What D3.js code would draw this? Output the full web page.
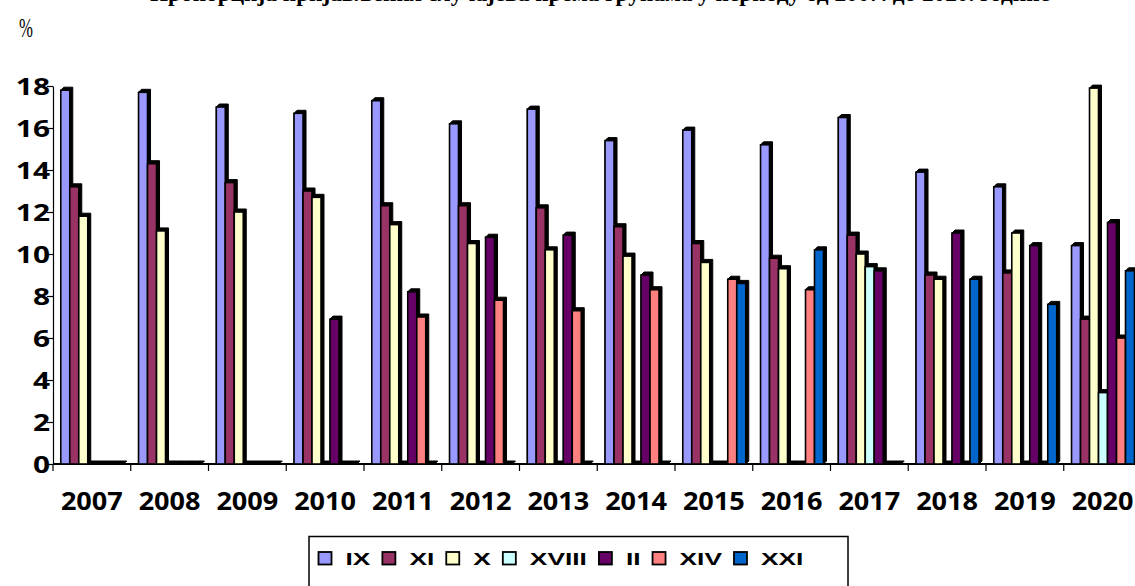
<!DOCTYPE html>
<html>
  <head>
    <meta charset="utf-8">
    <style>
      body { margin: 0; background: #fff; }
      svg { display: block; }
    </style>
  </head>
  <body>
    <script src="https://cdn.jsdelivr.net/npm/d3@7/dist/d3.min.js"></script>
    <script type="text/javascript">
      const width = 1135;
      const height = 586;

      const years = ['2007', '2008', '2009', '2010', '2011', '2012', '2013', '2014', '2015', '2016', '2017', '2018', '2019', '2020'];
      const seriesNames = ['IX', 'XI', 'X', 'XVIII', 'II', 'XIV', 'XXI'];
      const colorArray = ['#9999FF', '#993366', '#FFFFCC', '#CCFFFF', '#660066', '#FF8080', '#0066CC'];

      const valIX = [17.8, 17.7, 17.0, 16.7, 17.3, 16.2, 16.9, 15.4, 15.9, 15.2, 16.5, 13.9, 13.2, 10.4];
      const valXI = [13.2, 14.3, 13.4, 13.0, 12.3, 12.3, 12.2, 11.3, 10.5, 9.8, 10.9, 9.0, 9.1, 6.9];
      const valX = [11.8, 11.1, 12.0, 12.7, 11.4, 10.5, 10.2, 9.9, 9.6, 9.3, 10.0, 8.8, 11.0, 17.9];
      const valXVIII = [0, 0, 0, 0, 0, 0, 0, 0, 0, 0, 9.4, 0, 0, 3.4];
      const valII = [0, 0, 0, 6.9, 8.2, 10.8, 10.9, 9.0, 0, 0, 9.2, 11.0, 10.4, 11.5];
      const valXIV = [0, 0, 0, 0, 7.0, 7.8, 7.3, 8.3, 8.8, 8.3, 0, 0, 0, 6.0];
      const valXXI = [0, 0, 0, 0, 0, 0, 0, 0, 8.6, 10.2, 0, 8.8, 7.6, 9.2];
      const seriesValues = [valIX, valXI, valX, valXVIII, valII, valXIV, valXXI];

      const yTicks = [0, 2, 4, 6, 8, 10, 12, 14, 16, 18];

      const titleText = 'Пропорција пријављених случајева према групама у периоду од 2007. до 2020. године';

      // rows for drawing
      const data = [];
      years.forEach((yr, i) => {
        seriesNames.forEach((s, j) => {
          data.push({ year: yr, series: s, idx: j, value: seriesValues[j][i] });
        });
      });

      const svg = d3.select('body')
        .append('svg')
        .attr('width', width)
        .attr('height', height);

      const x0 = d3.scaleBand()
        .domain(years)
        .range([53, 53 + 77.75 * years.length]);

      const x1 = d3.scaleBand()
        .domain(seriesNames)
        .range([x0.bandwidth() * 0.1, x0.bandwidth() * 0.91]);

      const y = d3.scaleLinear()
        .domain([0, 18])
        .range([464, 86]);

      const depth = 3;

      // title (the top of it is cut off, as in the original)
      svg.append('text')
        .attr('x', 600)
        .attr('y', 1)
        .attr('text-anchor', 'middle')
        .attr('textLength', 900)
        .attr('lengthAdjust', 'spacingAndGlyphs')
        .style('font-family', '"Liberation Serif", "DejaVu Serif", serif')
        .style('font-weight', 'bold')
        .style('font-size', '23px')
        .text(titleText);

      // % unit label
      svg.append('text')
        .attr('transform', 'translate(19,37) scale(0.62,1)')
        .style('font-family', '"Liberation Serif", serif')
        .style('font-size', '27px')
        .text('%');

      // y axis
      const yAxis = svg.append('g')
        .attr('transform', 'translate(53,0)')
        .call(d3.axisLeft(y).tickValues(yTicks).tickSize(6).tickSizeOuter(0).tickFormat(d3.format('d')));
      yAxis.select('.domain').attr('stroke', '#000').attr('stroke-width', 1.2);
      yAxis.selectAll('.tick line').attr('stroke', '#000').attr('stroke-width', 1.2);
      yAxis.selectAll('.tick text')
        .attr('x', null)
        .attr('dy', null)
        .attr('transform', 'translate(-3,8) scale(1.3,1)')
        .attr('fill', '#000')
        .style('font-family', '"Noto Sans", "Open Sans", sans-serif')
        .style('font-weight', 'bold')
        .style('font-size', '23px');

      // x axis
      const xAxis = svg.append('g')
        .attr('transform', 'translate(0,' + y(0) + ')');
      xAxis.append('line')
        .attr('x1', 53).attr('x2', width)
        .attr('stroke', '#000').attr('stroke-width', 2);
      xAxis.selectAll('line.tk')
        .data(years)
        .enter()
        .append('line')
        .attr('class', 'tk')
        .attr('x1', (d) => x0(d)).attr('x2', (d) => x0(d))
        .attr('y1', 0).attr('y2', 7)
        .attr('stroke', '#000').attr('stroke-width', 1.2);
      xAxis.selectAll('text')
        .data(years)
        .enter()
        .append('text')
        .attr('x', (d) => x0(d) + x0.bandwidth() / 2)
        .attr('y', 46)
        .attr('text-anchor', 'middle')
        .attr('textLength', 62)
        .attr('lengthAdjust', 'spacingAndGlyphs')
        .style('font-family', '"Noto Sans", "Open Sans", sans-serif')
        .style('font-weight', 'bold')
        .style('font-size', '25px')
        .text((d) => d);

      // bars with a little 3D depth
      const bars = svg.append('g').selectAll('g')
        .data(data)
        .enter()
        .append('g');

      bars.append('polygon')
        .attr('points', (d) => {
          const bx = x0(d.year) + x1(d.series);
          const w = x1.bandwidth();
          const top = y(d.value);
          const base = y(0);
          return [
            [bx, top], [bx + depth, top - depth], [bx + w + depth, top - depth],
            [bx + w + depth, base - depth], [bx + w, base], [bx, base]
          ].map((p) => p.join(',')).join(' ');
        })
        .attr('fill', '#000')
        .attr('stroke', '#000')
        .attr('stroke-width', 1);

      bars.append('rect')
        .attr('x', (d) => x0(d.year) + x1(d.series))
        .attr('y', (d) => y(d.value))
        .attr('width', x1.bandwidth())
        .attr('height', (d) => y(0) - y(d.value))
        .attr('fill', (d) => colorArray[d.idx])
        .attr('stroke', '#000')
        .attr('stroke-width', 1.6);

      // legend
      const legend = svg.append('g');
      legend.append('rect')
        .attr('x', 309)
        .attr('y', 536.5)
        .attr('width', 539)
        .attr('height', 60)
        .attr('fill', '#fff')
        .attr('stroke', '#000')
        .attr('stroke-width', 1.5);

      let lx = 318.5;
      seriesNames.forEach((s, i) => {
        legend.append('rect')
          .attr('x', lx)
          .attr('y', 552)
          .attr('width', 13)
          .attr('height', 12.5)
          .attr('fill', colorArray[i])
          .attr('stroke', '#000')
          .attr('stroke-width', 1.8);
        const t = legend.append('text')
          .attr('transform', 'translate(' + (lx + 27) + ',565) scale(1.55,1)')
          .style('font-family', '"Liberation Sans", Arial, sans-serif')
          .style('font-weight', 'bold')
          .style('font-size', '17px')
          .text(s);
        const tw = t.node().getComputedTextLength() * 1.55;
        lx = lx + 27 + tw + 12;
      });
    </script>
  </body>
</html>
